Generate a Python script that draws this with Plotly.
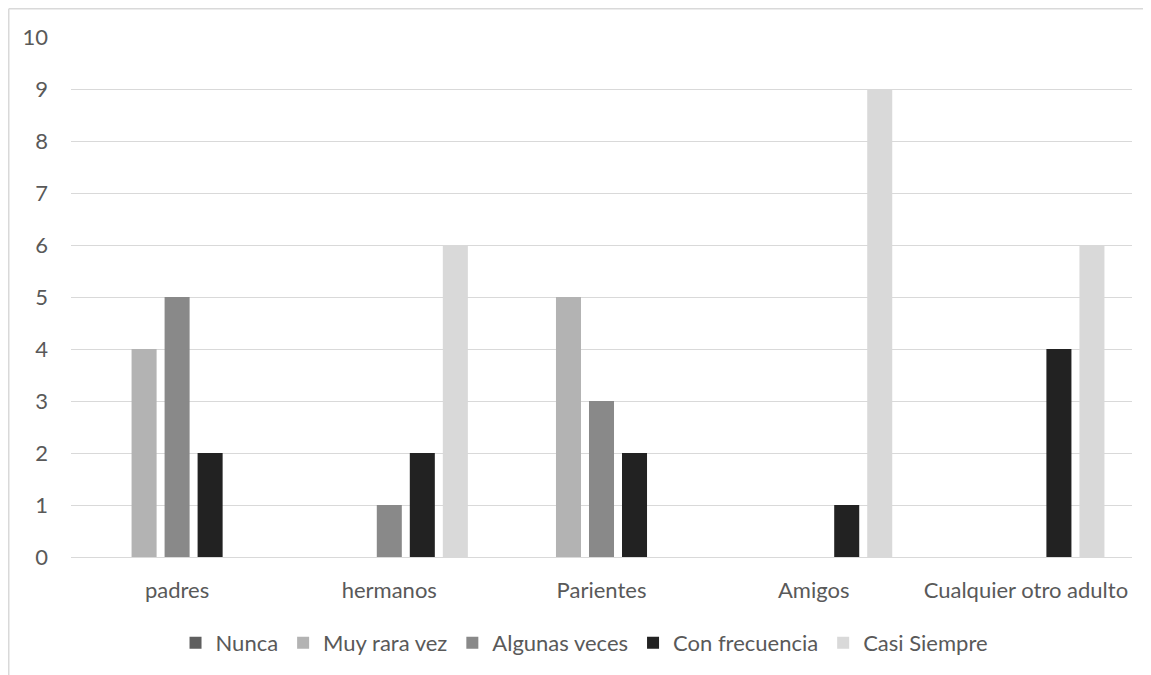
import plotly.graph_objects as go

categories = ["padres", "hermanos", "Parientes", "Amigos", "Cualquier otro adulto"]
series_names = ["Nunca", "Muy rara vez", "Algunas veces", "Con frecuencia", "Casi Siempre"]
nunca = [0, 0, 0, 0, 0]
muy_rara_vez = [4, 0, 5, 0, 0]
algunas_veces = [5, 1, 3, 0, 0]
con_frecuencia = [2, 2, 2, 1, 4]
casi_siempre = [0, 6, 0, 9, 6]
y_ticks = list(range(0, 11))

values = [nunca, muy_rara_vez, algunas_veces, con_frecuencia, casi_siempre]
colors = ["#5f5f5f", "#b3b3b3", "#898989", "#222222", "#d9d9d9"]

FONT = "Lato, 'Liberation Sans', sans-serif"
TXT = "#595959"
FS = 22

fig = go.Figure()
for name, vals, col in zip(series_names, values, colors):
    fig.add_trace(go.Bar(x=categories, y=vals, name=name, marker=dict(color=col, line=dict(width=0))))

W, H = 1151, 675
L, R, T, B = 63, 27, 29, 126
pw, ph = W - L - R, H - T - B

fig.update_layout(
    width=W, height=H,
    margin=dict(l=L, r=R, t=T, b=B),
    paper_bgcolor="white", plot_bgcolor="white",
    barmode="group", bargap=0.222, bargroupgap=0.242,
    font=dict(family=FONT, size=FS, color=TXT),
    showlegend=True,
    legend=dict(orientation="h", x=0.484, xanchor="center", y=(549 - 635) / ph, yanchor="middle",
                font=dict(family=FONT, size=FS, color=TXT), itemwidth=30, traceorder="normal"),
    xaxis=dict(showgrid=False, showline=False, zeroline=False, ticks="",
               ticklabelstandoff=18, tickfont=dict(size=FS, color=TXT)),
    yaxis=dict(range=[0, 10], tickvals=y_ticks, showgrid=True, gridcolor="#d9d9d9", gridwidth=1.3,
               zeroline=True, zerolinecolor="#d9d9d9", zerolinewidth=1.3, showline=False, ticks="",
               ticklabelstandoff=22, tickfont=dict(size=FS, color=TXT)),
    shapes=[
        dict(type="line", xref="paper", yref="paper", x0=(0.75 - L) / pw, x1=(W + 20 - L) / pw,
             y0=1 + (T - 0.75) / ph, y1=1 + (T - 0.75) / ph, line=dict(color="#d9d9d9", width=1.5)),
        dict(type="line", xref="paper", yref="paper", x0=(0.75 - L) / pw, x1=(0.75 - L) / pw,
             y0=1 + (T - 0.75) / ph, y1=-(H + 20 - T - ph) / ph, line=dict(color="#d9d9d9", width=1.5)),
    ],
)

fig.write_html("out.html")
